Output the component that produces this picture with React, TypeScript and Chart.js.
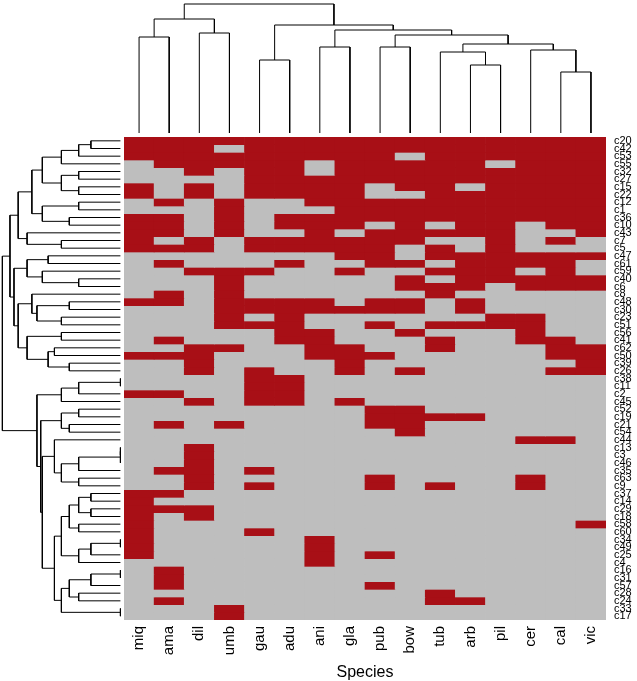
import React, { useEffect, useRef } from "react";
import { Chart, registerables } from "chart.js";
Chart.register(...registerables);

const species = ["miq","ama","dil","umb","gau","adu","ani","gla","pub","bow","tub","arb","pil","cer","cal","vic"];
const rowLabels = ["c20","c42","c53","c55","c32","c27","c15","c22","c12","c1","c36","c10","c43","c7","c5","c47","c61","c59","c40","c6","c8","c48","c30","c23","c51","c56","c41","c62","c50","c39","c26","c38","c11","c2","c45","c52","c19","c21","c54","c44","c13","c3","c46","c35","c63","c9","c37","c14","c29","c18","c58","c60","c34","c49","c25","c4","c16","c31","c57","c28","c24","c33","c17"];

// presence (1) / absence (0), one string per row, columns in species order
const presence = [
  "1111111111111111","1110111111111111","1111111110111111","0111110111110111",
  "0010110111111111","0000111111111111","1010111101101111","1010111100111111",
  "0101001111111111","0001000111111111","1101011111111111","1101011101011011",
  "1101001011111001","1010111111001010","1110111110101000","0000000110111111",
  "0100010011011110","0011100100111010","0001000001011111","0001000001110111",
  "0101000000100000","1101111011010000","0001111111010000","0001010000001100",
  "0001110010111100","0000011001000100","0100011000100110","0011001100100011",
  "1110001110000011","0010000100000001","0010100101000011","0000110000000000",
  "0000110000000000","1100110000000000","0010110100000000","0000000011000000",
  "0000000011110000","0101000011000000","0000000001000000","0000000000000110",
  "0010000000000000","0010000000000000","0010000000000000","0110100000000000",
  "0010000010000100","0010100010100100","1100000000000000","1000000000000000",
  "1110000000000000","1010000000000000","1000000000000001","1000100000000000",
  "1000001000000000","1000001000000000","1000001010000000","0000001000000000",
  "0100000000000000","0100000000000000","0100000010000000","0000000000100000",
  "0100000000110000","0001000000000000","0001000000000000",
];

type Node = number | [number, Node, Node];

// column dendrogram: [merge height, left, right]; leaves = species index
const colTree: Node = [129,
  [114, [96, 0, 1], [100, 2, 3]],
  [108, [73, 4, 5],
    [103, [86, 6, 7],
      [98, [86, 8, 9],
        [89, [81, 10, [68, 11, 12]], [83, 13, [61, 14, 15]]]]]]];
const colMax = 133;

// row dendrogram: leaves = row index
const rowT1: Node = [2, [1.414, [1, 0, 1], 2], 3];
const rowT2: Node = [2, [1.414, 4, 5], [1.414, 6, 7]];
const rowT3: Node = [2.646, [1.414, 8, 9], [1.732, 10, 11]];
const rowT4: Node = [3.162, 12, [2, 13, 14]];
const rowTop: Node = [3.464, [3.0, [2.646, rowT1, rowT2], rowT3], rowT4];
const rowM1: Node = [3.162, [2.449, 15, 16], [2.646, 17, [1.414, 18, 19]]];
const rowM2: Node = [3.0, 20, [2.828, [1.732, 21, 22], [2, 23, 24]]];
const rowM3: Node = [3.162, [2, 25, 26], [2.449, [2.236, 27, 28], [1.732, 29, 30]]];
const rowMid: Node = [3.606, rowM1, [3.464, rowM2, rowM3]];
const rowA: Node = [2, [1.414, [0, 31, 32], 33], 34];
const rowB: Node = [2, [1.414, 35, 36], [1.732, 37, 38]];
const rowD: Node = [2.236, 39, [2, [1.414, [0, [0, 40, 41], 42], 43], [1.414, 44, 45]]];
const rowMiq: Node = [2,
  [1.732, [1.414, [1, 46, 47], [1, 48, 49]], [1.414, 50, 51]],
  [1.414, [1, [0, 52, 53], 54], 55]];
const rowAma: Node = [2, [1.732, [1, [0, 56, 57], 58], [1.414, 59, 60]], [0, 61, 62]];
const rowBottom: Node = [2.828, rowA, [2.7, rowB, [2.646, rowD, [2.236, rowMiq, rowAma]]]];
const rowTree: Node = [4.0, [3.742, rowTop, rowMid], rowBottom];
const rowMax = 4.08;

const RED = "#A80F16";
const GRAY = "#BEBEBE";
const FONT = '"Liberation Sans", Arial, sans-serif';

type Seg = { a: number; ah: number; b: number; bh: number; h: number };
function walk(node: Node, segs: Seg[]): { pos: number; h: number } {
  if (typeof node === "number") return { pos: node, h: 0 };
  const [h, l, r] = node;
  const A = walk(l, segs);
  const B = walk(r, segs);
  segs.push({ a: A.pos, ah: A.h, b: B.pos, bh: B.h, h });
  return { pos: (A.pos + B.pos) / 2, h };
}

function dendroDatasets(tree: Node, horizontal: boolean) {
  const segs: Seg[] = [];
  walk(tree, segs);
  return segs.map((s) => {
    const pts = [
      [s.a, s.ah], [s.a, s.h], [s.b, s.h], [s.b, s.bh],
    ].map(([p, h]) => (horizontal ? { x: p, y: h } : { x: h, y: p }));
    return {
      data: pts,
      showLine: true,
      borderColor: "#000",
      borderWidth: 1,
      pointRadius: 0,
      tension: 0,
      clip: false as any,
    };
  });
}

export default function App() {
  const heatRef = useRef<HTMLCanvasElement>(null);
  const topRef = useRef<HTMLCanvasElement>(null);
  const leftRef = useRef<HTMLCanvasElement>(null);

  useEffect(() => {
    const charts: Chart[] = [];
    const heat = new Chart(heatRef.current!, {
      type: "bar",
      data: {
        labels: species,
        datasets: presence.map((row, i) => ({
          label: rowLabels[i],
          data: species.map(() => 1),
          backgroundColor: row.split("").map((c) => (c === "1" ? RED : GRAY)),
          borderWidth: 0,
          categoryPercentage: 1,
          barPercentage: 1,
          stack: "s",
        })),
      },
      options: {
        animation: false,
        responsive: false,
        events: [],
        plugins: { legend: { display: false }, tooltip: { enabled: false } },
        layout: { padding: { left: 124, top: 137, right: 0, bottom: 0 } },
        scales: {
          x: {
            type: "category",
            position: "bottom",
            stacked: true,
            grid: { display: false, drawTicks: false },
            border: { display: false },
            ticks: {
              minRotation: 90, maxRotation: 90, autoSkip: false, padding: 6,
              color: "#000", font: { family: FONT, size: 15 },
            },
            title: {
              display: true, text: "Species", color: "#000",
              font: { family: FONT, size: 16, lineHeight: 1 },
              padding: { top: 0, bottom: 0 },
            },
            afterFit: (s: any) => { s.height = 61; },
          },
          y: { type: "linear", stacked: true, min: 0, max: presence.length, reverse: true, display: false },
          rows: {
            type: "category",
            position: "right",
            labels: rowLabels,
            offset: true,
            grid: { display: false, drawTicks: false },
            border: { display: false },
            ticks: { autoSkip: false, padding: 8, color: "#000", font: { family: FONT, size: 11 } },
            afterFit: (s: any) => { s.width = 31; },
          },
        },
      } as any,
    });
    charts.push(heat);

    const top = new Chart(topRef.current!, {
      type: "scatter",
      data: { datasets: dendroDatasets(colTree, true) as any },
      options: {
        animation: false, responsive: false, events: [],
        plugins: { legend: { display: false }, tooltip: { enabled: false } },
        layout: { padding: 0 },
        scales: {
          x: { type: "linear", min: -0.5, max: species.length - 0.5, display: false },
          y: { type: "linear", min: 0, max: colMax, display: false },
        },
      } as any,
    });
    charts.push(top);

    const left = new Chart(leftRef.current!, {
      type: "scatter",
      data: { datasets: dendroDatasets(rowTree, false) as any },
      options: {
        animation: false, responsive: false, events: [],
        plugins: { legend: { display: false }, tooltip: { enabled: false } },
        layout: { padding: 0 },
        scales: {
          x: { type: "linear", min: -0.02, max: rowMax, reverse: true, display: false },
          y: { type: "linear", min: -0.5, max: presence.length - 0.5, reverse: true, display: false },
        },
      } as any,
    });
    charts.push(left);

    return () => charts.forEach((c) => c.destroy());
  }, []);

  return (
    <div style={{ position: "fixed", left: 0, top: 0, width: 637, height: 681, background: "#fff", overflow: "hidden" }}>
      <canvas ref={heatRef} width={637} height={681} style={{ position: "absolute", left: 0, top: 0 }} />
      <canvas ref={topRef} width={482} height={133} style={{ position: "absolute", left: 124, top: 0 }} />
      <canvas ref={leftRef} width={121} height={483} style={{ position: "absolute", left: 0, top: 137 }} />
    </div>
  );
}
